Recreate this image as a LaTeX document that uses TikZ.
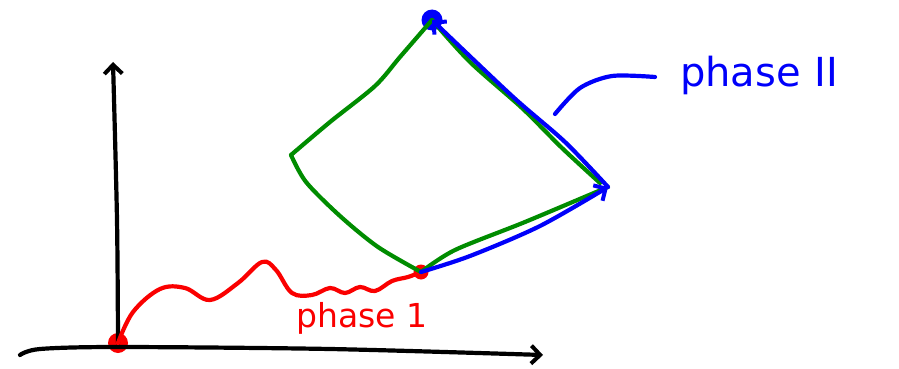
\documentclass[tikz,border=0pt]{standalone}
\usepackage{fontspec}
\setmainfont{DejaVu Sans}
\usetikzlibrary{arrows.meta}
\definecolor{ink}{RGB}{0,0,0}
\definecolor{rd}{RGB}{250,0,0}
\definecolor{gr}{RGB}{0,140,0}
\definecolor{bl}{RGB}{0,0,250}
\tikzset{
  every picture/.style={line width=4.2pt, line cap=round, line join=round,
    >={Straight Barb[length=9pt,width=18pt,line width=4pt]}},
  % Punkte und Beschriftung
  blob/.style={circle, fill=#1, inner sep=0pt, minimum size=20pt},
  hand/.style={text=#1, font=\fontsize{33}{36}\selectfont, inner sep=0pt},
}
\begin{document}
\begin{tikzpicture}[x=1pt, y=-1pt]
  \useasboundingbox (0,0) rectangle (899,369);
  % Punkte
  \coordinate (xs) at (20,355);
  \coordinate (xe) at (543,355);
  \coordinate (ye) at (113,62);
  \node[blob=rd] (O) at (118,343) {};
  \node[blob=rd, minimum size=15pt] (A) at (421,272) {};
  \node[blob=bl, minimum size=21pt] (T) at (432,20) {};
  \coordinate (L) at (291,155);
  \coordinate (R) at (608,187);
  % Achsen
  \draw[ink, ->] plot[smooth] coordinates {(xs) (40,349) (118,347) (330,349) (xe)};
  \draw[ink, ->] plot[smooth] coordinates {(O.center) (117,220) (ye)};
  % Phase 1
  \draw[rd] plot[smooth, tension=0.6] coordinates {(O.center) (133,312) (160,289) (185,288)
    (210,300) (238,283) (262,262) (276,270) (292,293) (312,295) (330,288) (345,293)
    (360,287) (375,291) (392,281) (408,277) (A.center)};
  \node[hand=rd] (ph1) at (362,318) {phase 1};
  % Raute
  \draw[gr] plot[smooth] coordinates {(L) (330,122) (375,86) (400,57) (T.center)};
  \draw[gr] plot[smooth] coordinates {(L) (306,182) (340,216) (378,247) (A.center)};
  \draw[gr] plot[smooth] coordinates {(T.center) (470,62) (522,108) (562,148) (600,183)};
  \draw[gr] plot[smooth] coordinates {(A.center) (455,250) (525,222) (R)};
  % Phase II
  \draw[bl, ->] plot[smooth] coordinates {(A.center) (470,256) (540,226) (R)};
  \draw[bl, ->] plot[smooth] coordinates {(R) (565,142) (512,96) (T)};
  \draw[bl] plot[smooth] coordinates {(555,114) (580,88) (612,76) (655,77)};
  \node[hand=bl, font=\fontsize{40}{44}\selectfont, anchor=base west] (ph2) at (678,86) {phase\hspace{14pt}II};
\end{tikzpicture}
\end{document}
